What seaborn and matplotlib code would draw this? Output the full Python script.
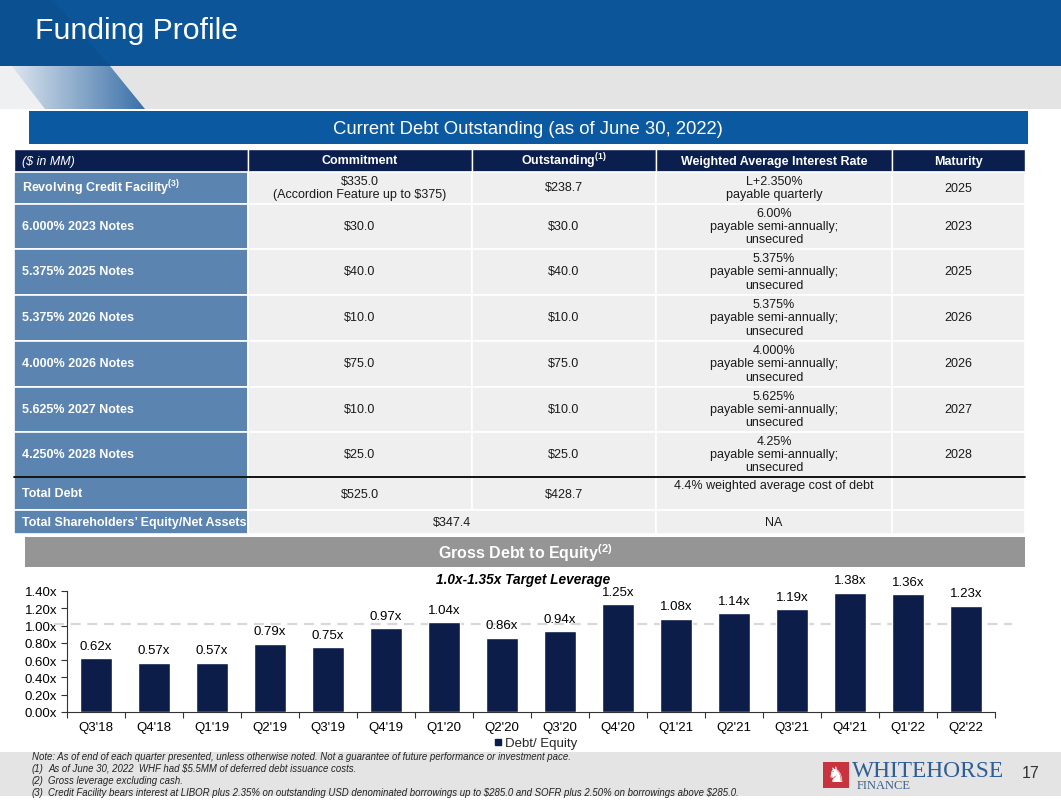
import matplotlib
matplotlib.use("Agg")
import numpy as np
import pandas as pd
import seaborn as sns
import matplotlib.pyplot as plt
import matplotlib.patches as mpatches
from matplotlib.lines import Line2D
from matplotlib.ticker import FuncFormatter

# ---- data ----
quarters = ["Q3'18", "Q4'18", "Q1'19", "Q2'19", "Q3'19", "Q4'19", "Q1'20", "Q2'20",
            "Q3'20", "Q4'20", "Q1'21", "Q2'21", "Q3'21", "Q4'21", "Q1'22", "Q2'22"]
debt_to_equity = [0.62, 0.57, 0.57, 0.79, 0.75, 0.97, 1.04, 0.86,
                  0.94, 1.25, 1.08, 1.14, 1.19, 1.38, 1.36, 1.23]
target_level = 1.02

table_header = ["($ in MM)", "Commitment", r"Outstanding$^{\mathbf{(1)}}$",
                "Weighted Average Interest Rate", "Maturity"]
facilities = [r"Revolving Credit Facility$^{\mathbf{(3)}}$", "6.000% 2023 Notes",
              "5.375% 2025 Notes", "5.375% 2026 Notes", "4.000% 2026 Notes",
              "5.625% 2027 Notes", "4.250% 2028 Notes"]
commitments = ["$335.0\n(Accordion Feature up to $375)", "$30.0", "$40.0", "$10.0",
               "$75.0", "$10.0", "$25.0"]
outstanding = ["$238.7", "$30.0", "$40.0", "$10.0", "$75.0", "$10.0", "$25.0"]
rates = ["L+2.350%\npayable quarterly",
         "6.00%\npayable semi-annually;\nunsecured",
         "5.375%\npayable semi-annually;\nunsecured",
         "5.375%\npayable semi-annually;\nunsecured",
         "4.000%\npayable semi-annually;\nunsecured",
         "5.625%\npayable semi-annually;\nunsecured",
         "4.25%\npayable semi-annually;\nunsecured"]
maturities = ["2025", "2023", "2025", "2026", "2026", "2027", "2028"]
total_debt = ["Total Debt", "$525.0", "$428.7", "4.4% weighted average cost of debt"]
equity_row = ["Total Shareholders\u2019 Equity/Net Assets", "$347.4", "NA"]

notes = ["Note: As of end of each quarter presented, unless otherwise noted. Not a guarantee of future performance or investment pace.",
         "As of June 30, 2022  WHF had $5.5MM of deferred debt issuance costs.",
         "Gross leverage excluding cash.",
         "Credit Facility bears interest at LIBOR plus 2.35% on outstanding USD denominated borrowings up to $285.0 and SOFR plus 2.50% on borrowings above $285.0."]

# ---- style ----
sns.set_style("ticks")
plt.rcParams["font.family"] = ["Liberation Sans", "DejaVu Sans"]
plt.rcParams["mathtext.fontset"] = "custom"
plt.rcParams["mathtext.rm"] = "Liberation Sans"
plt.rcParams["mathtext.bf"] = "Liberation Sans:bold"
plt.rcParams["mathtext.it"] = "Liberation Sans:italic"

navy = "#0B1D48"
head_blue = "#0C5598"
banner_blue = "#0B5AA1"
col_blue = "#5B84B0"
cell_grey = "#EFEFEF"
txt = "#1A1A1A"

fig = plt.figure(figsize=(10.61, 8.12), dpi=100)
bg = fig.add_axes([0, 0, 1, 1], zorder=0)
bg.set_xlim(0, 1061)
bg.set_ylim(812, 0)
bg.axis("off")


def box(x0, y0, x1, y1, color, ec="none", lw=0):
    bg.add_patch(mpatches.Rectangle((x0, y0), x1 - x0, y1 - y0, facecolor=color,
                                    edgecolor=ec, linewidth=lw))


# header
box(0, 0, 1061, 67, head_blue)
box(0, 67, 1061, 110, "#E4E4E4")
light = mpatches.Polygon([(0, 67), (12, 67), (45, 110), (0, 110)], closed=True,
                         facecolor="#EEF0F2", edgecolor="none")
bg.add_patch(light)
shade = mpatches.Polygon([(0, 0), (52, 0), (110, 67), (0, 67)], closed=True,
                         facecolor="#0A4A86", edgecolor="none", alpha=0.3)
bg.add_patch(shade)
stripe = mpatches.Polygon([(12, 67), (110, 67), (145, 110), (45, 110)], closed=True,
                          facecolor="none", edgecolor="none")
bg.add_patch(stripe)
grad = np.linspace(0, 1, 256).reshape(1, -1)
cmap = matplotlib.colors.LinearSegmentedColormap.from_list("s", ["#DCE5EE", "#3A70A8"])
im = bg.imshow(grad, extent=(12, 145, 110, 67), cmap=cmap, aspect="auto", zorder=1)
im.set_clip_path(stripe)
bg.set_xlim(0, 1061)
bg.set_ylim(812, 0)
bg.text(35, 31, "Funding Profile", color="white", fontsize=21.8, va="center", ha="left")

box(29, 112, 1028, 145, banner_blue)
bg.text(528, 129, "Current Debt Outstanding (as of June 30, 2022)", color="white",
        fontsize=13.3, ha="center", va="center")

# table
col_edges = [14, 248, 472, 656, 892, 1025]
row_edges = [(172.5, 204.5), (204.5, 249.5), (249.5, 295.5), (295.5, 341.5),
             (341.5, 387.5), (387.5, 432.5), (432.5, 477.5)]
fs = 9

for i, label in enumerate(table_header):
    x0, x1 = col_edges[i], col_edges[i + 1]
    box(x0, 150, x1, 172.5, "#0B1F4E", ec="white", lw=1)
    if i == 0:
        bg.text(22, 161.5, label, color="white", fontsize=fs, style="italic",
                ha="left", va="center", parse_math=False)
    else:
        bg.text((x0 + x1) / 2, 161.5, label, color="white", fontsize=fs,
                fontweight="bold", ha="center", va="center")

for r, (y0, y1) in enumerate(row_edges):
    yc = (y0 + y1) / 2
    box(col_edges[0], y0, col_edges[1], y1, col_blue, ec="white", lw=1.2)
    bg.text(22, yc, facilities[r], color="white", fontsize=fs, fontweight="bold",
            ha="left", va="center")
    cells = [commitments[r], outstanding[r], rates[r], maturities[r]]
    for c, val in enumerate(cells):
        x0, x1 = col_edges[c + 1], col_edges[c + 2]
        box(x0, y0, x1, y1, cell_grey, ec="white", lw=1.2)
        bg.text((x0 + x1) / 2, yc, val, color=txt, fontsize=fs, ha="center",
                va="center", linespacing=1.15, parse_math=False)

# total debt row
y0, y1 = 477.5, 510.5
box(col_edges[0], y0, col_edges[1], y1, col_blue, ec="white", lw=1.2)
bg.text(22, 494, total_debt[0], color="white", fontsize=fs, fontweight="bold",
        ha="left", va="center")
for c in range(4):
    x0, x1 = col_edges[c + 1], col_edges[c + 2]
    box(x0, y0, x1, y1, cell_grey, ec="white", lw=1.2)
bg.text((col_edges[1] + col_edges[2]) / 2, 495, total_debt[1], color=txt, fontsize=fs,
        ha="center", va="center", parse_math=False)
bg.text((col_edges[2] + col_edges[3]) / 2, 495, total_debt[2], color=txt, fontsize=fs,
        ha="center", va="center", parse_math=False)
bg.text((col_edges[3] + col_edges[4]) / 2, 486, total_debt[3], color=txt, fontsize=fs,
        ha="center", va="center", parse_math=False)
bg.plot([col_edges[0], col_edges[-1]], [477.5, 477.5], color="black", lw=1.3)

# equity row
y0, y1 = 511, 535
box(col_edges[0], y0, col_edges[1], y1, col_blue, ec="white", lw=1.2)
box(col_edges[1], y0, col_edges[3], y1, cell_grey, ec="white", lw=1.2)
box(col_edges[3], y0, col_edges[4], y1, cell_grey, ec="white", lw=1.2)
box(col_edges[4], y0, col_edges[5], y1, cell_grey, ec="white", lw=1.2)
bg.text(22, 523, equity_row[0], color="white", fontsize=fs, fontweight="bold",
        ha="left", va="center", zorder=5)
bg.text((col_edges[1] + col_edges[3]) / 2, 523, equity_row[1], color=txt, fontsize=fs,
        ha="center", va="center", parse_math=False)
bg.text((col_edges[3] + col_edges[4]) / 2, 523, equity_row[2], color=txt, fontsize=fs,
        ha="center", va="center")

# chart banner
box(25, 538, 1025, 568, "#959595")
bg.text(525, 553, r"Gross Debt to Equity$^{\mathbf{(2)}}$", color="white", fontsize=11.5,
        fontweight="bold", ha="center", va="center")
bg.text(523, 580, "1.0x-1.35x Target Leverage", color="black", fontsize=9.8,
        fontweight="bold", style="italic", ha="center", va="center")

# footer
box(0, 753, 1061, 797, "#E4E4E4")
bg.text(32, 757, notes[0], fontsize=6.9, style="italic", color="#222222",
        ha="left", va="center", parse_math=False)
for k, note in enumerate(notes[1:]):
    yy = 769 + 12 * k
    bg.text(32, yy, f"({k + 1})", fontsize=6.9, style="italic", color="#222222",
            ha="left", va="center")
    bg.text(48, yy, note, fontsize=6.9, style="italic", color="#222222",
            ha="left", va="center", parse_math=False)

box(823, 763, 849, 789, "#C7343F")
bg.text(836, 776.5, "\u265e", family="DejaVu Sans", fontsize=15, color="white",
        ha="center", va="center")
bg.text(852, 777, "WHITEHORSE", family="Liberation Serif", fontsize=16.8,
        color="#2D5E97", ha="left", va="baseline")
bg.text(857, 789, "FINANCE", family="Liberation Serif", fontsize=9,
        color="#3A5F8A", ha="left", va="baseline")
bg.text(1031, 774, "17", fontsize=11.5, color="#333333", ha="center", va="center")

# ---- bar chart ----
ax = fig.add_axes([67 / 1061, 1 - 713 / 812, (995 - 67) / 1061, (713 - 592) / 812], zorder=2)
ax.patch.set_alpha(0)
df = pd.DataFrame({"quarter": quarters, "ratio": debt_to_equity})
sns.barplot(data=df, x="quarter", y="ratio", color=navy, saturation=1, width=0.55,
            ax=ax, zorder=3)
ax.set_xlim(-0.5, len(quarters) - 0.5)
ax.set_ylim(0, 1.4)
ax.set_yticks(np.linspace(0, 1.4, 8))
ax.yaxis.set_major_formatter(FuncFormatter(lambda v, p: f"{v:.2f}x"))
ax.bar_label(ax.containers[0], labels=[f"{v:.2f}x" for v in debt_to_equity],
             padding=4.5, fontsize=9.5, color="black")
ax.plot([-0.72, len(quarters) - 0.21], [target_level, target_level], ls=(0, (4.5, 3)),
        color="#D9D9D9", lw=1.6, clip_on=False, zorder=1)
ax.set_xticks(range(len(quarters)))
ax.set_xticks(np.arange(-0.5, len(quarters), 1), minor=True)
ax.tick_params(axis="x", which="major", length=0, pad=6.5, labelsize=9.5, colors="black")
ax.tick_params(axis="x", which="minor", length=4, width=0.8, direction="out", color="#333333")
ax.tick_params(axis="y", length=4, width=0.8, direction="out", color="#333333",
               labelsize=9.5, labelcolor="black", pad=3)
ax.set_xlabel("")
ax.set_ylabel("")
for side in ["top", "right"]:
    ax.spines[side].set_visible(False)
for side in ["left", "bottom"]:
    ax.spines[side].set_color("#333333")
    ax.spines[side].set_linewidth(0.8)

ax.legend(handles=[Line2D([], [], marker="s", color=navy, ls="none", markersize=4,
                          label="Debt/ Equity")],
          loc="center", bbox_to_anchor=(535 / 1061, 1 - 744 / 812),
          bbox_transform=fig.transFigure, frameon=False, fontsize=9.5,
          handletextpad=0.1, handlelength=0.8)

fig.savefig("out.png", dpi=100)
